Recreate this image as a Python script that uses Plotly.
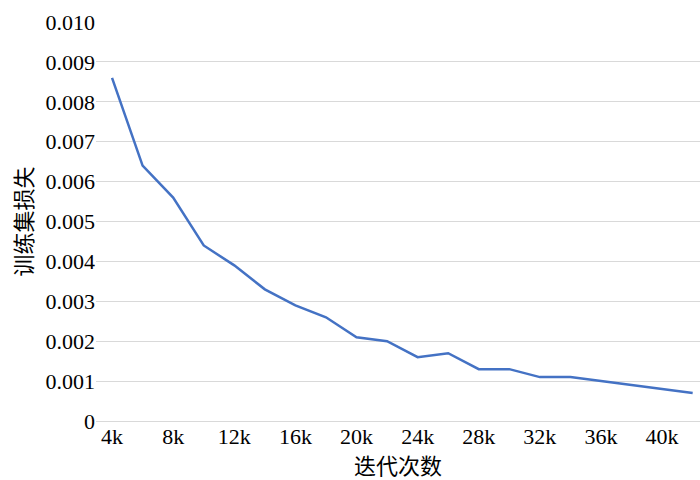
import plotly.graph_objects as go

iterations_k = [4, 6, 8, 10, 12, 14, 16, 18, 20, 22, 24, 26, 28, 30, 32, 34, 36, 38, 40, 42]
train_loss = [0.0086, 0.0064, 0.0056, 0.0044, 0.0039, 0.0033, 0.0029, 0.0026, 0.0021, 0.0020,
              0.0016, 0.0017, 0.0013, 0.0013, 0.0011, 0.0011, 0.0010, 0.0009, 0.0008, 0.0007]
x_tickvals = [4, 8, 12, 16, 20, 24, 28, 32, 36, 40]
x_ticktext = ["4k", "8k", "12k", "16k", "20k", "24k", "28k", "32k", "36k", "40k"]
y_tickvals = [0, 0.001, 0.002, 0.003, 0.004, 0.005, 0.006, 0.007, 0.008, 0.009, 0.010]
y_ticktext = ["0", "0.001", "0.002", "0.003", "0.004", "0.005", "0.006", "0.007", "0.008", "0.009", "0.010"]
x_title = "迭代次数"
y_title = "训练集损失"

num_font = "Liberation Serif"
cjk_font = "Noto Sans CJK SC"

fig = go.Figure()
fig.add_trace(go.Scatter(x=iterations_k, y=train_loss, mode="lines",
                         line=dict(color="#4472C4", width=2.5)))

fig.update_layout(
    width=700, height=480,
    margin=dict(l=96, r=0, t=22, b=59),
    paper_bgcolor="white", plot_bgcolor="white",
    showlegend=False,
    font=dict(family=num_font, size=22, color="#000000"),
    xaxis=dict(range=[2.95, 42.48], tickvals=x_tickvals, ticktext=x_ticktext,
               showgrid=False, zeroline=False, showline=False, ticks="",
               automargin=False,
               tickfont=dict(family=num_font, size=22, color="#000"),
               title=dict(text=x_title + "\u3000\u3000\u3000\u2002", standoff=2,
                          font=dict(family=cjk_font, size=22, color="#000"))),
    yaxis=dict(range=[0, 0.010], tickvals=y_tickvals, ticktext=y_ticktext,
               showgrid=True, gridcolor="#d9d9d9", gridwidth=1,
               zeroline=True, zerolinecolor="#d9d9d9", zerolinewidth=1,
               showline=False, ticks="", automargin=False,
               tickfont=dict(family=num_font, size=22, color="#000"),
               title=dict(text=y_title + "\u3000\u2002", standoff=6,
                          font=dict(family=cjk_font, size=22, color="#000"))),
)

post = ("document.body.style.margin='0';document.body.style.padding='0';"
        "var s=document.createElement('style');"
        "s.innerHTML='.modebar-container{display:none !important}';"
        "document.head.appendChild(s);")
fig.write_html("out.html", post_script=post)
